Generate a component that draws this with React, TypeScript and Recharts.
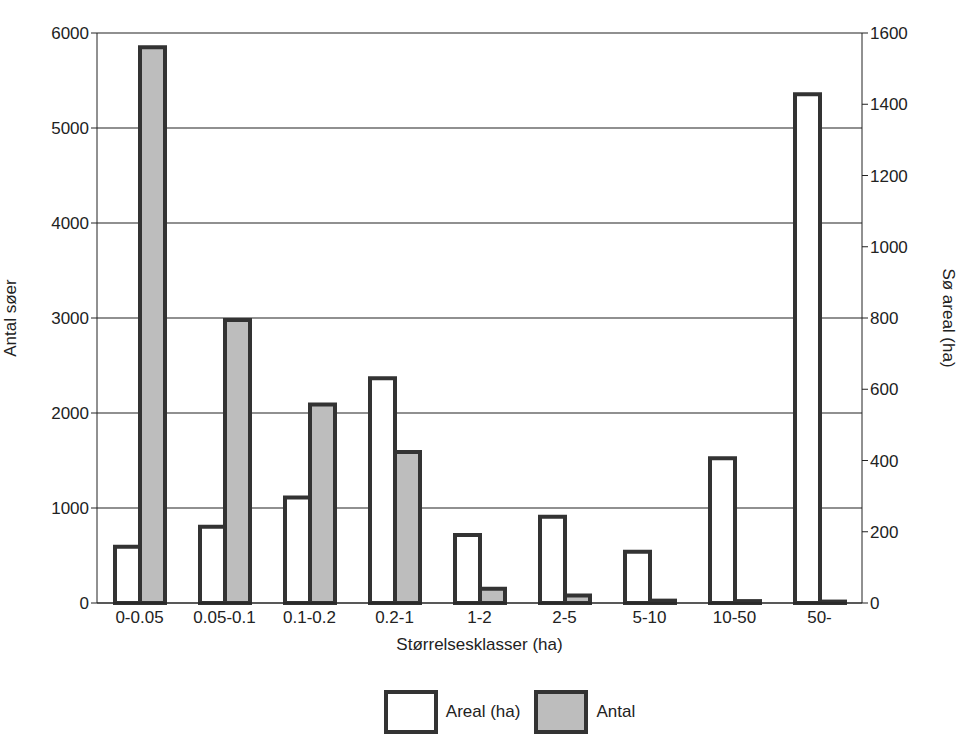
import { BarChart, Bar, XAxis, YAxis, CartesianGrid, Legend, Label } from 'recharts';

const categories = ['0-0.05', '0.05-0.1', '0.1-0.2', '0.2-1', '1-2', '2-5', '5-10', '10-50', '50-'];
const areal = [158, 214, 296, 631, 191, 242, 144, 406, 1428];
const antal = [5850, 2980, 2090, 1590, 150, 80, 25, 20, 15];
const leftTicks = [0, 1000, 2000, 3000, 4000, 5000, 6000];
const rightTicks = [0, 200, 400, 600, 800, 1000, 1200, 1400, 1600];

const data = categories.map((name, i) => ({ name, areal: areal[i], antal: antal[i] }));

const font = { fontFamily: '"Liberation Sans", Arial, sans-serif', fontSize: 17, fill: '#222' };

const LegendBox = () => (
  <div style={{ display: 'flex', justifyContent: 'center', alignItems: 'center', gap: 8, height: 60, fontFamily: font.fontFamily, fontSize: 17, color: '#222', paddingLeft: 60 }}>
    <div style={{ width: 46, height: 36, border: '4px solid #333', background: '#fff' }} />
    <span style={{ marginRight: 6 }}>Areal (ha)</span>
    <div style={{ width: 46, height: 36, border: '4px solid #333', background: '#bdbdbd' }} />
    <span>Antal</span>
  </div>
);

export default function App() {
  return (
    <div style={{ position: 'absolute', left: 0, top: 0, background: '#fff' }}>
      <BarChart width={959} height={742} data={data} margin={{ top: 33, right: 0, bottom: 0, left: 0 }} barGap={0} barSize={25}>
        <CartesianGrid vertical={false} stroke="#222" strokeWidth={1.2} yAxisId="left" />
        <XAxis dataKey="name" height={79} tick={font} tickLine={false} stroke="#222" interval={0}>
          <Label value="Størrelsesklasser (ha)" position="insideBottom" offset={32} style={font} />
        </XAxis>
        <YAxis yAxisId="left" width={97} domain={[0, 6000]} ticks={leftTicks} tick={font} stroke="#222" tickSize={6}>
          <Label value="Antal søer" angle={-90} position="insideLeft" offset={10} style={{ ...font, textAnchor: 'middle' }} />
        </YAxis>
        <YAxis yAxisId="right" orientation="right" width={97} domain={[0, 1600]} ticks={rightTicks} tick={font} stroke="#222" tickSize={6}>
          <Label value="Sø areal (ha)" angle={90} position="insideRight" offset={10} style={{ ...font, textAnchor: 'middle' }} />
        </YAxis>
        <Legend verticalAlign="bottom" height={60} content={<LegendBox />} />
        <Bar yAxisId="right" dataKey="areal" fill="#fff" stroke="#333" strokeWidth={4} isAnimationActive={false} />
        <Bar yAxisId="left" dataKey="antal" fill="#bdbdbd" stroke="#333" strokeWidth={4} isAnimationActive={false} />
      </BarChart>
    </div>
  );
}
